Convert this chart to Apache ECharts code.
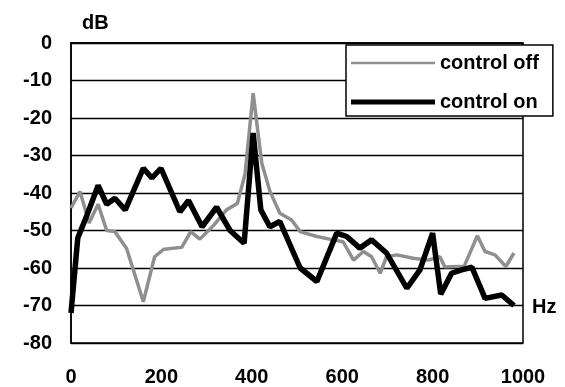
<!DOCTYPE html>
<html>
<head>
<meta charset="utf-8">
<script src="https://cdn.jsdelivr.net/npm/echarts@6/dist/echarts.min.js"></script>
<style>
  html, body { margin: 0; padding: 0; background: #fff; }
  #chart { width: 565px; height: 387px; }
</style>
</head>
<body>
<div id="chart"></div>
<script>
  // values (Hz, dB)
  var offHz = [0, 20, 40, 60, 79, 97, 123, 160, 185, 205, 245, 265, 285, 315, 344, 368, 385, 403, 422, 440, 462, 488, 507, 544, 580, 602, 625, 647, 665, 684, 698, 721, 757, 790, 816, 827, 870, 899, 916, 938, 962, 980];
  var offDb = [-44, -39.6, -48, -43, -50, -50.3, -54.8, -69, -57, -55, -54.5, -50.3, -52.3, -48.7, -44.5, -42.8, -35, -13.4, -32, -39.5, -45.4, -47.2, -50.3, -51.6, -52.5, -53, -57.9, -55.6, -57, -61.4, -57, -56.5, -57.4, -57.9, -57, -59.7, -59.5, -51.4, -55.6, -56.5, -59.6, -56];

  var onHz = [0, 15, 35, 60, 79, 97, 120, 160, 179, 199, 241, 260, 290, 322, 352, 383, 403, 420, 440, 462, 507, 544, 588, 610, 639, 665, 698, 743, 772, 800, 818, 842, 864, 887, 916, 953, 980];
  var onDb = [-72, -52, -46, -38, -43, -41.4, -44.5, -33.4, -36, -33.4, -45, -42, -49, -43.8, -50, -53.4, -24, -44.5, -49, -47.6, -60, -63.6, -50.7, -51.6, -54.7, -52.5, -56, -65.4, -60.5, -50.7, -67, -61.4, -60.5, -59.8, -68.1, -67.2, -70];

  var seriesNames = ['control off', 'control on'];

  function pairs(xs, ys) {
    var out = [];
    for (var i = 0; i < xs.length; i++) out.push([xs[i], ys[i]]);
    return out;
  }

  // legend bars: tiny corner marks keep the icon box 14 high so the bar keeps its own thickness
  var thinBar = 'path://M0,0L0.01,0L0,0.01Z M0,5.5H100V8.5H0Z M0,14L0.01,14L0,13.99Z';
  var thickBar = 'path://M0,0L0.01,0L0,0.01Z M0,4H100V10H0Z M0,14L0.01,14L0,13.99Z';

  var font = "'Liberation Sans', Arial, sans-serif";
  var chart = echarts.init(document.getElementById('chart'));
  chart.setOption({
    animation: false,
    backgroundColor: '#fff',
    grid: {
      left: 71, right: 42, top: 43, bottom: 44,
      show: true, borderColor: '#000', borderWidth: 1.5,
      containLabel: false, outerBoundsMode: 'none'
    },
    legend: {
      orient: 'vertical',
      left: 346, top: 45,
      data: [
        { name: seriesNames[0], icon: thinBar },
        { name: seriesNames[1], icon: thickBar }
      ],
      backgroundColor: '#fff',
      borderColor: '#000',
      borderWidth: 1.5,
      padding: [7, 14, 3, 5],
      itemWidth: 84,
      itemHeight: 14,
      itemGap: 17,
      textStyle: { fontFamily: font, fontWeight: 'bold', fontSize: 20, color: '#000', lineHeight: 22 },
      z: 10
    },
    xAxis: {
      type: 'value',
      min: 0, max: 1000, interval: 200,
      axisLine: { show: true, lineStyle: { color: '#000', width: 1.5 } },
      axisTick: { show: false },
      splitLine: { show: false },
      axisLabel: {
        margin: 24, color: '#000', fontFamily: font, fontWeight: 'bold', fontSize: 20,
        formatter: function (v) { return String(v); }
      }
    },
    yAxis: {
      type: 'value',
      min: -80, max: 0, interval: 10,
      axisLine: { show: true, lineStyle: { color: '#000', width: 1.5 } },
      axisTick: { show: false },
      splitLine: { show: true, lineStyle: { color: '#000', width: 1.3 } },
      axisLabel: { margin: 19, color: '#000', fontFamily: font, fontWeight: 'bold', fontSize: 20 }
    },
    graphic: [
      { type: 'text', left: 82, top: 13, style: { text: 'dB', font: 'bold 20px ' + font, fill: '#000' } },
      { type: 'text', left: 532, top: 297, style: { text: 'Hz', font: 'bold 20px ' + font, fill: '#000' } }
    ],
    series: [
      {
        name: seriesNames[0],
        type: 'line',
        data: pairs(offHz, offDb),
        symbol: 'none',
        color: '#8f8f8f',
        lineStyle: { color: '#8f8f8f', width: 3.5 }
      },
      {
        name: seriesNames[1],
        type: 'line',
        data: pairs(onHz, onDb),
        symbol: 'none',
        color: '#000',
        lineStyle: { color: '#000', width: 5.5 }
      }
    ]
  });
</script>
</body>
</html>
